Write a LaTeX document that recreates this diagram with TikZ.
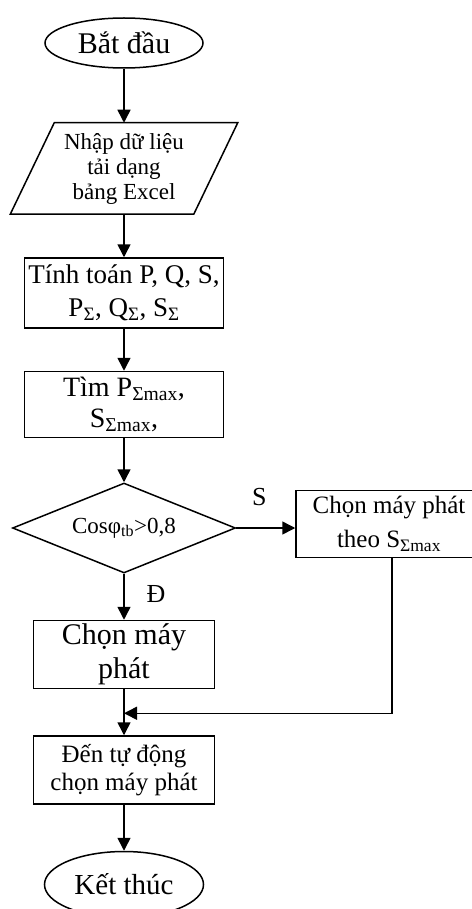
\documentclass[tikz,border=0pt]{standalone}
\usepackage{fontspec}
\setmainfont{Liberation Serif}
\usetikzlibrary{arrows.meta,positioning,shapes.geometric}
\newcommand{\fsz}[2]{\fontsize{#1}{#2}\selectfont}

\begin{document}
\begin{tikzpicture}[
  x=1pt, y=1pt, line width=1.5pt,
  every node/.style={draw, inner sep=0pt, align=center},
  term/.style={ellipse, minimum width=158pt},
  box/.style={rectangle, minimum width=199pt},
  arr/.style={-{Triangle[length=13pt,width=13pt]}},
  lbl/.style={draw=none, font=\fsz{26}{30}}
]
\useasboundingbox (0,0) rectangle (471,-909);

\node[term, minimum height=50pt, font=\fsz{30}{34}] (start) at (124,-43) {Bắt đầu};
\node[draw=none, minimum width=138pt, minimum height=90pt, below=54pt of start,
  font=\fsz{23}{25}] (input) {Nhập dữ liệu\\tải dạng\\bảng Excel};
\draw (input.north west) -- ([xshift=44pt]input.north east) -- (input.south east)
  -- ([xshift=-44pt]input.south west) -- cycle;
\node[box, minimum height=70pt, below=43pt of input, font=\fsz{27}{33}] (tinh)
  {Tính toán P, Q, S,\\P\textsubscript{Σ}, Q\textsubscript{Σ}, S\textsubscript{Σ}};
\node[box, minimum height=66pt, below=42pt of tinh, font=\fsz{28}{31}] (tim)
  {Tìm P\textsubscript{Σmax},\\S\textsubscript{Σmax},};
\node[diamond, aspect=2.4, minimum width=223pt, minimum height=90pt, below=44pt of tim,
  font=\fsz{23}{26}] (dia) {Cosφ\textsubscript{tb}>0,8};
\node[box, minimum width=186pt, minimum height=67pt, right=59pt of dia, yshift=4pt,
  font=\fsz{25}{34}] (gen) {Chọn máy phát\\theo S\textsubscript{Σmax}};
\node[box, minimum width=181pt, minimum height=68pt, below=46pt of dia,
  font=\fsz{30}{34}] (chon) {Chọn máy\\phát};
\node[box, minimum width=181pt, minimum height=68pt, below=46pt of chon,
  font=\fsz{25}{28}] (den) {Đến tự động\\chọn máy phát};
\node[term, minimum width=159pt, minimum height=66pt, below=46pt of den,
  font=\fsz{29}{34}] (end) {Kết thúc};

\foreach \a/\b in {start/input, input/tinh, tinh/tim, tim/dia, dia/chon, chon/den, den/end}
  \draw[arr] (\a) -- (\b);

\draw[arr] (dia.east) -- (dia.east -| gen.west);
\coordinate[below=24pt of chon] (mrg);
\draw[arr] ([xshift=3pt]gen.south) |- (mrg);

\node[lbl] (sai) at ([xshift=23pt,yshift=31pt]dia.east) {S};
\node[lbl] (dung) at ([xshift=32pt,yshift=-20pt]dia.south) {Đ};
\end{tikzpicture}
\end{document}
